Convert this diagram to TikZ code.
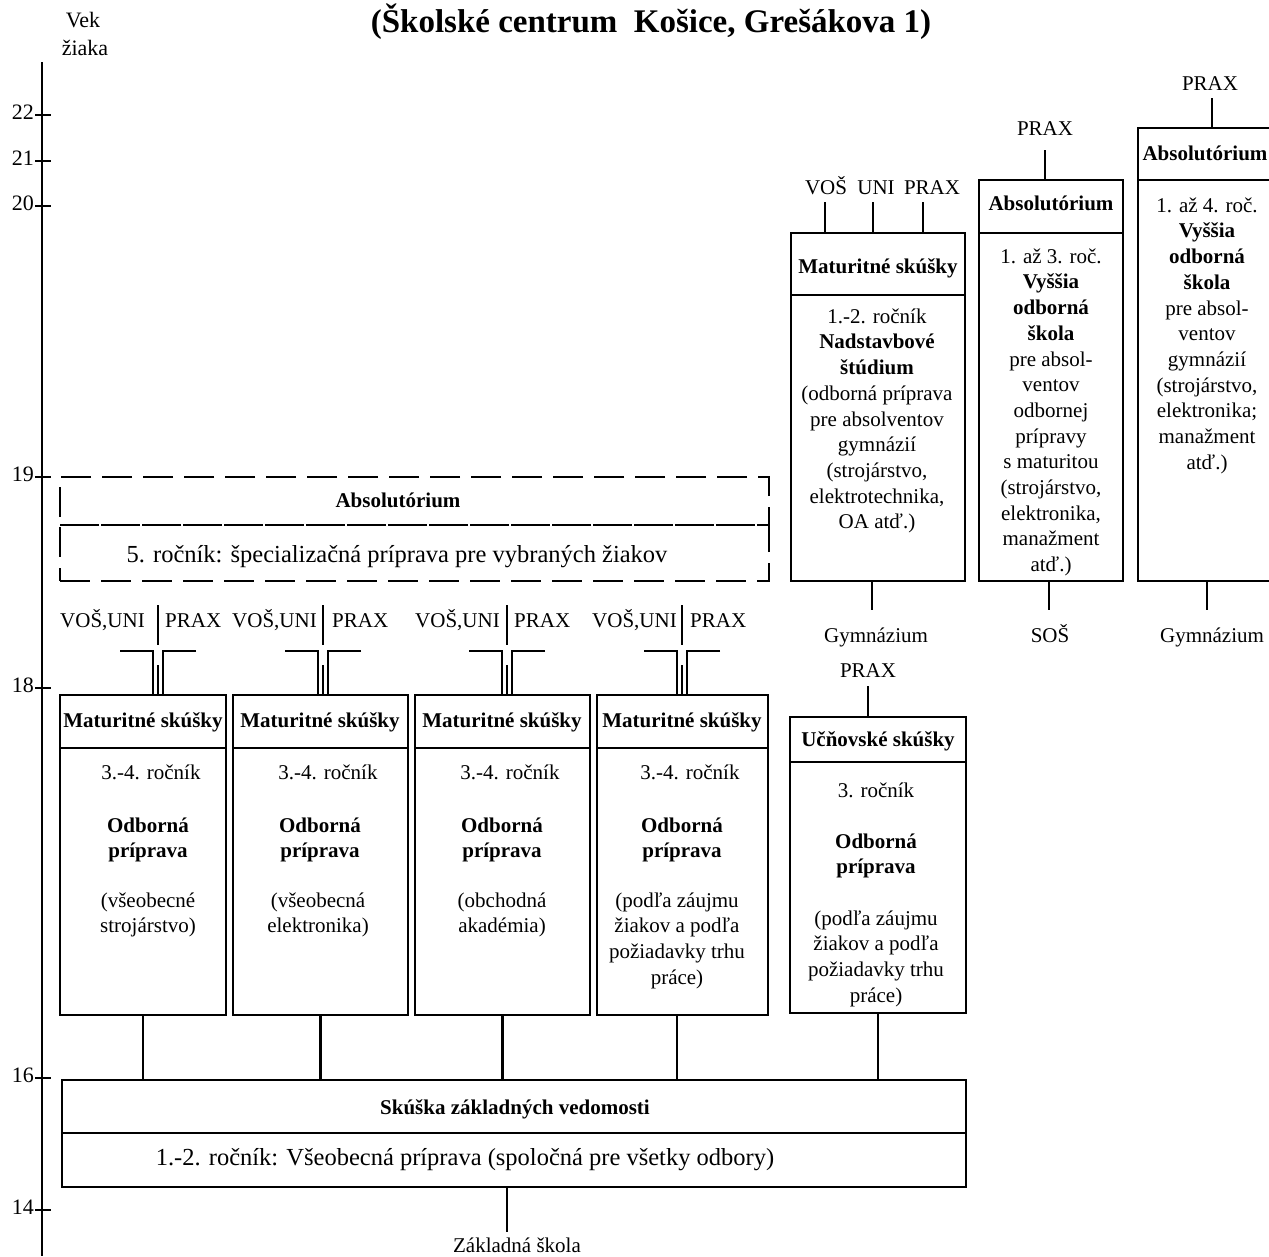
\documentclass[tikz,border=0pt]{standalone}
\usepackage{fontspec}
\setmainfont{Liberation Serif}
\newcommand\fstrut{\rule{0pt}{19pt}}
\newcommand\brk[1]{%
  \draw[ln] (#1-38,651) -- (#1-5,651) -- (#1-5,695);
  \draw[ln] (#1+38,651) -- (#1+5,651) -- (#1+5,695);
  \draw[line width=1.2pt] (#1,665) -- (#1,695);
  \draw[ln] (#1,605) -- (#1,645);}
\begin{document}
\begin{tikzpicture}[x=1pt,y=-1pt,
  bx/.style={draw, line width=2.4pt, inner sep=0pt, outer sep=0pt, anchor=north west},
  dbx/.style={bx, dash pattern=on 30pt off 11pt},
  ln/.style={line width=2.2pt},
  tx/.style={inner sep=0pt, font=\fontsize{21}{25.7}\selectfont, align=center},
  bt/.style={inner sep=0pt, font=\fontsize{21}{25.7}\selectfont\bfseries, align=center},
]
\useasboundingbox (0,0) rectangle (1269,1256);

% axis
\draw[line width=2.6pt] (42,62) -- (42,1256);
\foreach \v/\yy in {22/115,21/161,20/206,19/477,18/688,16/1078,14/1210}{
  \draw[line width=2.4pt] (35,\yy) -- (51,\yy);
  \node[tx, anchor=east, font=\fontsize{22}{26}\selectfont] (tick\v) at (34,\yy-3) {\v};}
\node[tx, anchor=base, font=\fontsize{22}{26}\selectfont] (vek) at (83,27) {Vek};
\node[tx, anchor=base, font=\fontsize{22}{26}\selectfont] (ziaka) at (85,55) {žiaka};

% title
\node[inner sep=0pt, font=\fontsize{33}{38}\selectfont\bfseries, anchor=base] (title) at (651,32) {(Školské centrum\ \ Košice, Grešákova 1)};

% Nadstavbove studium
\node[bx, minimum width=174pt, minimum height=62pt] (nadH) at (791,233) {};
\node[bx, minimum width=174pt, minimum height=286pt] (nadB) at (791,295) {};
\node[bt, anchor=base] (nadHt) at (878,273) {Maturitné skúšky};
\node[tx, anchor=north] (nadBt) at (877,323-19) {\fstrut 1.-2. ročník\\\textbf{Nadstavbové}\\\textbf{štúdium}\\(odborná príprava\\pre absolventov\\gymnázií\\(strojárstvo,\\elektrotechnika,\\OA atď.)};
\node[tx, anchor=base] (nvos) at (826,194) {VOŠ};
\node[tx, anchor=base] (nuni) at (876,194) {UNI};
\node[tx, anchor=base] (nprax) at (932,194) {PRAX};
\draw[ln] (825,202) -- (825,233);
\draw[ln] (873,202) -- (873,233);
\draw[ln] (923,202) -- (923,233);
\draw[ln] (872,581) -- (872,610);
\node[tx, anchor=base] (gym1) at (876,642) {Gymnázium};

% SOS absolutorium
\node[bx, minimum width=144pt, minimum height=53pt] (sosH) at (979,180) {};
\node[bx, minimum width=144pt, minimum height=348pt] (sosB) at (979,233) {};
\node[bt, anchor=base] (sosHt) at (1051,210) {Absolutórium};
\node[tx, anchor=north] (sosBt) at (1051,263-19) {\fstrut 1. až 3. roč.\\\textbf{Vyššia}\\\textbf{odborná}\\\textbf{škola}\\pre absol-\\ventov\\odbornej\\prípravy\\s maturitou\\(strojárstvo,\\elektronika,\\manažment\\atď.)};
\node[tx, anchor=base] (sprax) at (1045,135) {PRAX};
\draw[ln] (1045,150) -- (1045,180);
\draw[ln] (1049,581) -- (1049,610);
\node[tx, anchor=base] (sos) at (1050,642) {SOŠ};

% right absolutorium
\node[bx, minimum width=150pt, minimum height=52pt] (rH) at (1138,128) {};
\node[bx, minimum width=150pt, minimum height=401pt] (rB) at (1138,180) {};
\node[bt, anchor=base] (rHt) at (1205,160) {Absolutórium};
\node[tx, anchor=north] (rBt) at (1207,212-19) {\fstrut 1. až 4. roč.\\\textbf{Vyššia}\\\textbf{odborná}\\\textbf{škola}\\pre absol-\\ventov\\gymnázií\\(strojárstvo,\\elektronika;\\manažment\\atď.)};
\node[tx, anchor=base] (rprax) at (1210,90) {PRAX};
\draw[ln] (1212,98) -- (1212,128);
\draw[ln] (1207,581) -- (1207,610);
\node[tx, anchor=base] (gym2) at (1212,642) {Gymnázium};

% dashed 5th year
\node[dbx, minimum width=709pt, minimum height=48pt] (absH) at (60,477) {};
\node[dbx, minimum width=709pt, minimum height=56pt] (absB) at (60,525) {};
\node[bt, anchor=base] (absHt) at (398,507) {Absolutórium};
\node[tx, anchor=base, font=\fontsize{24.5}{28}\selectfont] (absBt) at (397,562) {5. ročník: špecializačná príprava pre vybraných žiakov};

% labels above maturitne boxes
\node[tx, anchor=base west] (vu1) at (60,627) {VOŠ,UNI};
\node[tx, anchor=base west] (pr1) at (165,627) {PRAX};
\node[tx, anchor=base west] (vu2) at (232,627) {VOŠ,UNI};
\node[tx, anchor=base west] (pr2) at (332,627) {PRAX};
\node[tx, anchor=base west] (vu3) at (415,627) {VOŠ,UNI};
\node[tx, anchor=base west] (pr3) at (514,627) {PRAX};
\node[tx, anchor=base west] (vu4) at (592,627) {VOŠ,UNI};
\node[tx, anchor=base west] (pr4) at (690,627) {PRAX};
\brk{158}
\brk{323}
\brk{507}
\brk{682}

% maturitne boxes
\node[bx, minimum width=166pt, minimum height=53pt] (m1H) at (60,695) {};
\node[bx, minimum width=166pt, minimum height=267pt] (m1B) at (60,748) {};
\node[bx, minimum width=175pt, minimum height=53pt] (m2H) at (233,695) {};
\node[bx, minimum width=175pt, minimum height=267pt] (m2B) at (233,748) {};
\node[bx, minimum width=175pt, minimum height=53pt] (m3H) at (415,695) {};
\node[bx, minimum width=175pt, minimum height=267pt] (m3B) at (415,748) {};
\node[bx, minimum width=171pt, minimum height=53pt] (m4H) at (597,695) {};
\node[bx, minimum width=171pt, minimum height=267pt] (m4B) at (597,748) {};

\node[bt, anchor=base] (m1Ht) at (143,727) {Maturitné skúšky};
\node[bt, anchor=base] (m2Ht) at (320,727) {Maturitné skúšky};
\node[bt, anchor=base] (m3Ht) at (502,727) {Maturitné skúšky};
\node[bt, anchor=base] (m4Ht) at (682,727) {Maturitné skúšky};

\node[tx, anchor=base] (m1r) at (151,779) {3.-4. ročník};
\node[tx, anchor=base] (m2r) at (328,779) {3.-4. ročník};
\node[tx, anchor=base] (m3r) at (510,779) {3.-4. ročník};
\node[tx, anchor=base] (m4r) at (690,779) {3.-4. ročník};

\node[bt, anchor=north] (m1o) at (148,832-19) {\fstrut Odborná\\príprava};
\node[bt, anchor=north] (m2o) at (320,832-19) {\fstrut Odborná\\príprava};
\node[bt, anchor=north] (m3o) at (502,832-19) {\fstrut Odborná\\príprava};
\node[bt, anchor=north] (m4o) at (682,832-19) {\fstrut Odborná\\príprava};

\node[tx, anchor=north] (m1d) at (148,907-19) {\fstrut(všeobecné\\strojárstvo)};
\node[tx, anchor=north] (m2d) at (318,907-19) {\fstrut(všeobecná\\elektronika)};
\node[tx, anchor=north] (m3d) at (502,907-19) {\fstrut(obchodná\\akadémia)};
\node[tx, anchor=north] (m4d) at (677,907-19) {\fstrut(podľa záujmu\\žiakov a podľa\\požiadavky trhu\\práce)};

% ucnovske
\node[tx, anchor=base] (uprax) at (868,677) {PRAX};
\draw[ln] (868,686) -- (868,717);
\node[bx, minimum width=176pt, minimum height=45pt] (ucH) at (790,717) {};
\node[bx, minimum width=176pt, minimum height=251pt] (ucB) at (790,762) {};
\node[bt, anchor=base] (ucHt) at (878,746) {Učňovské skúšky};
\node[tx, anchor=base] (ucr) at (876,797) {3. ročník};
\node[bt, anchor=north] (uco) at (876,848-19) {\fstrut Odborná\\príprava};
\node[tx, anchor=north] (ucd) at (876,925-19) {\fstrut(podľa záujmu\\žiakov a podľa\\požiadavky trhu\\práce)};

% base box
\node[bx, minimum width=904pt, minimum height=53pt] (baseH) at (62,1080) {};
\node[bx, minimum width=904pt, minimum height=54pt] (baseB) at (62,1133) {};
\node[bt, anchor=base] (baseHt) at (515,1114) {Skúška základných vedomosti};
\node[tx, anchor=base, font=\fontsize{24.5}{28}\selectfont] (baseBt) at (465,1165) {1.-2. ročník: Všeobecná príprava (spoločná pre všetky odbory)};

\draw[ln] (m1B.south) -- (m1B.south |- baseH.north);
\draw[ln] (m2B.south) -- (m2B.south |- baseH.north);
\draw[ln] (m3B.south) -- (m3B.south |- baseH.north);
\draw[ln] (677,1015) -- (677,1080);
\draw[ln] (ucB.south) -- (ucB.south |- baseH.north);

\node[tx, anchor=base] (zs) at (517,1252) {Základná škola};
\draw[ln] (507,1187) -- (507,1232);
\end{tikzpicture}
\end{document}
